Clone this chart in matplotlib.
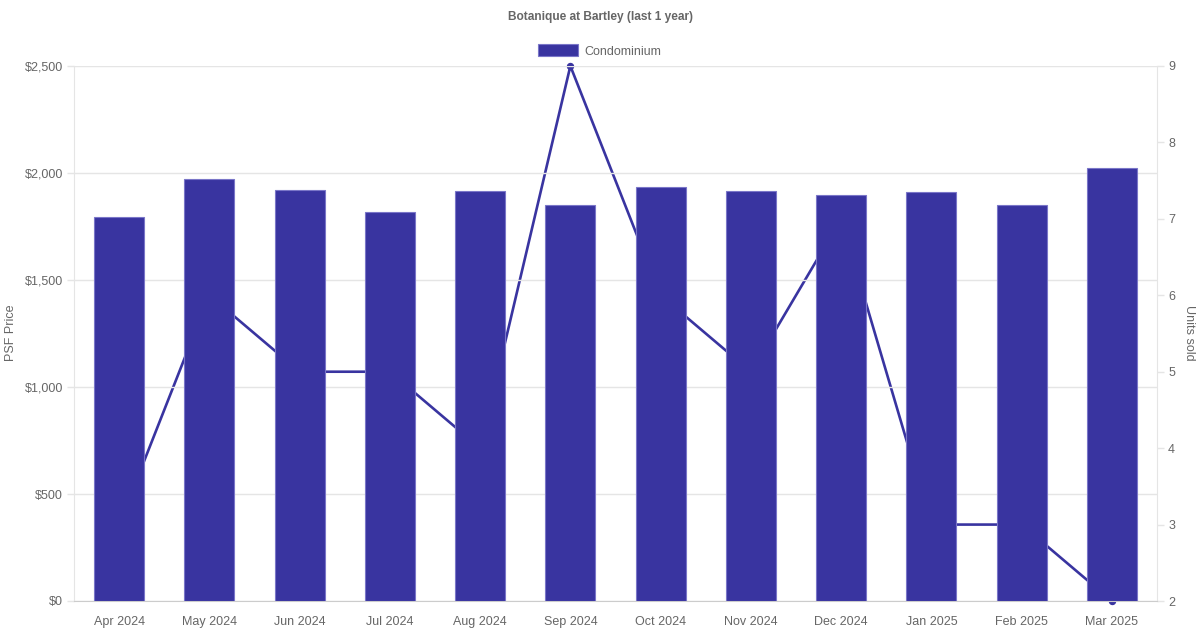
import matplotlib
matplotlib.use("Agg")
import matplotlib.pyplot as plt
from matplotlib.ticker import FuncFormatter, MultipleLocator
from matplotlib.patches import Rectangle

months = ["Apr 2024", "May 2024", "Jun 2024", "Jul 2024", "Aug 2024", "Sep 2024",
          "Oct 2024", "Nov 2024", "Dec 2024", "Jan 2025", "Feb 2025", "Mar 2025"]
psf_price = [1795, 1973, 1921, 1819, 1916, 1851, 1936, 1917, 1898, 1911, 1851, 2023]
units_sold = [3, 6, 5, 5, 4, 9, 6, 5, 7, 3, 3, 2]

BAR = "#3934a0"
TXT = "#666666"
GRID = "#e5e5e5"

plt.rcParams['font.family'] = ['Liberation Sans', 'DejaVu Sans']

fig = plt.figure(figsize=(12, 6.3), dpi=100)
ax1 = fig.add_axes([74/1200, 29/630, (1157-74)/1200, 535/630])
ax2 = ax1.twinx()

x = list(range(len(months)))
ax1.bar(x, psf_price, width=0.555, color=BAR, edgecolor="#7a76c8", linewidth=0.8, zorder=3)
ax2.plot(x, units_sold, color=BAR, linewidth=1.9, marker="o", markersize=4.3, clip_on=False, zorder=2)

ax1.set_zorder(ax2.get_zorder() + 1)
ax1.patch.set_visible(False)

ax1.set_xlim(-0.5, len(months) - 0.5)
ax1.set_ylim(0, 2500)
ax1.yaxis.set_major_locator(MultipleLocator(500))
ax1.yaxis.set_major_formatter(FuncFormatter(lambda v, p: f"${int(v):,}"))
ax2.set_ylim(2, 9)
ax2.yaxis.set_major_locator(MultipleLocator(1))

ax1.set_xticks(x)
ax1.set_xticklabels(months)
ax1.grid(axis="y", color=GRID, linewidth=1, zorder=0)
ax1.set_axisbelow(True)

for ax in (ax1, ax2):
    for s in ax.spines.values():
        s.set_visible(False)
ax1.spines["left"].set_visible(True)
ax1.spines["left"].set_color(GRID)
ax1.spines["bottom"].set_visible(True)
ax1.spines["bottom"].set_color("#cccccc")
ax2.spines["right"].set_visible(True)
ax2.spines["right"].set_color(GRID)

ax1.tick_params(axis="y", colors=GRID, labelcolor=TXT, labelsize=9, length=5, width=1, pad=3)
ax1.tick_params(axis="x", length=0, labelcolor=TXT, labelsize=9, pad=11)
ax2.tick_params(axis="y", colors=GRID, labelcolor=TXT, labelsize=9, length=5, width=1, pad=3)

ax1.set_ylabel("PSF Price", color=TXT, fontsize=9, va="center")
ax2.set_ylabel("Units sold", color=TXT, fontsize=9, rotation=270, va="center")
ax1.yaxis.set_label_coords(11/1200, 1 - 333/630, transform=fig.transFigure)
ax2.yaxis.set_label_coords(1189/1200, 1 - 333/630, transform=fig.transFigure)

fig.text(600/1200, 1 - 17/630, "Botanique at Bartley (last 1 year)", ha="center", va="center",
         fontsize=8.6, fontweight="bold", color=TXT)

fig.patches.append(Rectangle((538/1200, 1 - 56/630), 40/1200, 12/630, transform=fig.transFigure,
                             facecolor=BAR, edgecolor="#7a76c8", linewidth=0.8))
fig.text(584/1200, 1 - 50.5/630, "Condominium", ha="left", va="center_baseline", fontsize=9, color=TXT)

fig.savefig("out.png", dpi=100)
